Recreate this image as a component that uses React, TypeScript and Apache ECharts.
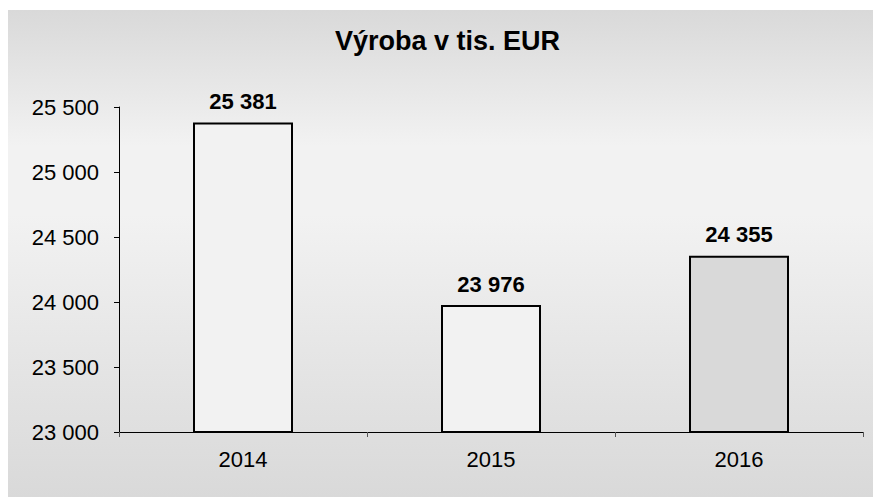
import React, { useEffect, useRef } from "react";
import * as echarts from "echarts";

const categories = ["2014", "2015", "2016"];
const values = [25381, 23976, 24355];
const barColors = ["#f2f2f2", "#f2f2f2", "#d9d9d9"];
const titleText = "Výroba v tis. EUR";
const yMin = 23000;
const yMax = 25500;
const yInterval = 500;

const FONT = "'Liberation Sans', Arial, sans-serif";

function fmt(v: number): string {
  return String(Math.round(v)).replace(/\B(?=(\d{3})+(?!\d))/g, " ");
}

export default function App() {
  const ref = useRef<HTMLDivElement>(null);
  useEffect(() => {
    if (!ref.current) return;
    const chart = echarts.init(ref.current, null, { renderer: "svg" });
    chart.setOption({
      animation: false,
      backgroundColor: "transparent",
      title: {
        text: titleText,
        left: 327,
        top: 17,
        padding: 0,
        textStyle: { fontFamily: FONT, fontSize: 27, fontWeight: "bold", color: "#000" },
      },
      grid: { left: 111, right: 10, top: 97, bottom: 65, containLabel: false },
      xAxis: {
        type: "category",
        data: categories,
        axisLine: { show: true, lineStyle: { color: "#000", width: 1 } },
        axisTick: { show: true, length: 5, alignWithLabel: false, lineStyle: { color: "#555" } },
        axisLabel: { fontFamily: FONT, fontSize: 22, color: "#000", margin: 16 },
        splitLine: { show: false },
      },
      yAxis: {
        type: "value",
        min: yMin,
        max: yMax,
        interval: yInterval,
        axisLine: { show: true, lineStyle: { color: "#000", width: 1 } },
        axisTick: { show: true, length: 5, inside: false, lineStyle: { color: "#000" } },
        axisLabel: {
          fontFamily: FONT,
          fontSize: 22,
          color: "#000",
          margin: 20,
          formatter: (v: number) => fmt(v),
        },
        splitLine: { show: false },
      },
      series: [
        {
          type: "bar",
          barWidth: 100,
          data: values.map((v, i) => ({
            value: v,
            itemStyle: { color: barColors[i], borderColor: "#000", borderWidth: 2 },
          })),
          label: {
            show: true,
            position: "top",
            distance: 10,
            fontFamily: FONT,
            fontSize: 22,
            fontWeight: "bold",
            color: "#000",
            formatter: (p: any) => fmt(p.value),
          },
        },
      ],
    });
    return () => chart.dispose();
  }, []);
  return (
    <div
      ref={ref}
      style={{
        position: "fixed",
        left: 8,
        top: 10,
        width: 865,
        height: 487,
        background: "linear-gradient(#d9d9d9 0%, #f2f2f2 28%, #f2f2f2 42%, #d9d9d9 100%)",
      }}
    />
  );
}
